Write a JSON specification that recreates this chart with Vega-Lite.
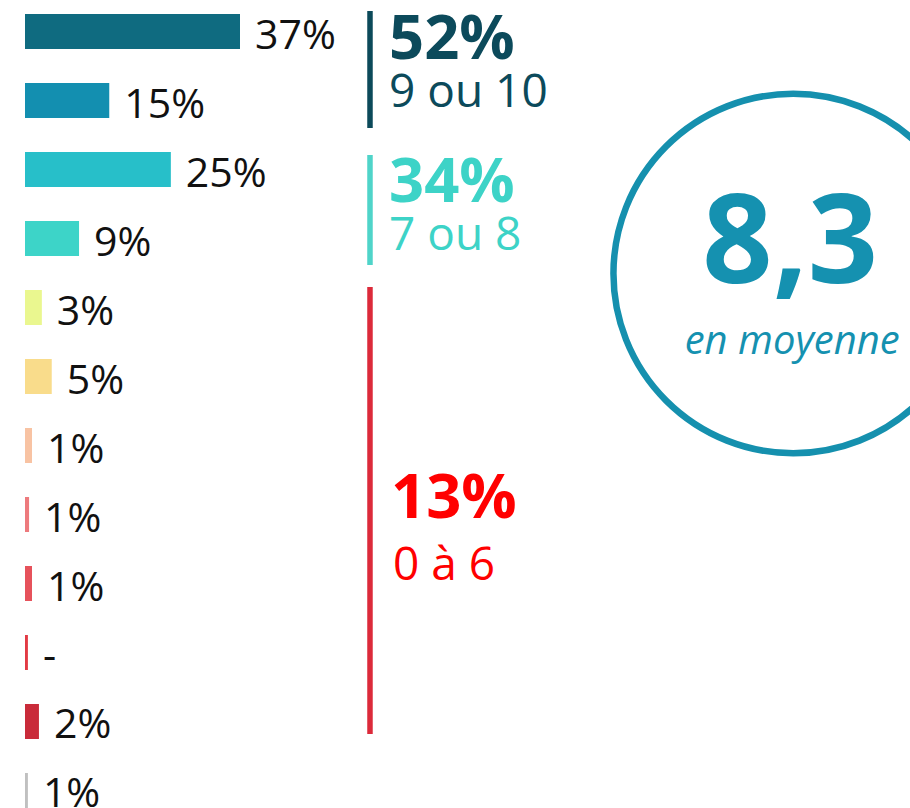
{
  "$schema": "https://vega.github.io/schema/vega-lite/v6.json",
  "width": 885,
  "height": 808,
  "padding": {"left": 25, "top": 0, "right": 0, "bottom": 0},
  "autosize": {"type": "none"},
  "background": "white",
  "config": {"view": {"stroke": null}, "text": {"font": "Open Sans"}},
  "datasets": {
    "notes": [
      {"note": "10", "pct": 37, "label": "37%"},
      {"note": "9", "pct": 14.5, "label": "15%"},
      {"note": "8", "pct": 25.1, "label": "25%"},
      {"note": "7", "pct": 9.3, "label": "9%"},
      {"note": "6", "pct": 2.9, "label": "3%"},
      {"note": "5", "pct": 4.6, "label": "5%"},
      {"note": "4", "pct": 1.2, "label": "1%"},
      {"note": "3", "pct": 0.7, "label": "1%"},
      {"note": "2", "pct": 1.2, "label": "1%"},
      {"note": "1", "pct": 0.5, "label": "-"},
      {"note": "0", "pct": 2.4, "label": "2%"},
      {"note": "NSP", "pct": 0.5, "label": "1%"}
    ],
    "groups": [
      {"grp": "top", "big": "52%", "sub": "9 ou 10", "first": "10", "last": "9"},
      {"grp": "mid", "big": "34%", "sub": "7 ou 8", "first": "8", "last": "7"},
      {"grp": "low", "big": "13%", "sub": "0 à 6", "first": "6", "last": "0"}
    ],
    "mean": [{"value": "8,3", "caption": "en moyenne"}]
  },
  "layer": [
    {
      "data": {"name": "notes"},
      "mark": {"type": "bar"},
      "encoding": {
        "y": {
          "field": "note", "type": "nominal", "sort": null,
          "scale": {"domain": ["10","9","8","7","6","5","4","3","2","1","0","NSP"], "paddingInner": 0.49275, "paddingOuter": 0.10145, "align": 1, "round": false},
          "axis": null
        },
        "x": {"field": "pct", "type": "quantitative", "scale": {"domain": [0, 152.3], "nice": false, "zero": true}, "axis": null},
        "color": {
          "field": "note", "type": "nominal",
          "scale": {
            "domain": ["10","9","8","7","6","5","4","3","2","1","0","NSP"],
            "range": ["#0f6b80","#138fb0","#27bfc9","#3dd4c8","#eaf78f","#f9dc8b","#f8c3a3","#ed7a7d","#e6525b","#e23a44","#c92b3a","#c0c0c0"]
          },
          "legend": null
        }
      }
    },
    {
      "data": {"name": "notes"},
      "mark": {"type": "text", "align": "left", "baseline": "alphabetic", "dx": 15, "dy": 17, "fontSize": 41, "color": "#111111"},
      "encoding": {
        "y": {"field": "note", "type": "nominal"},
        "x": {"field": "pct", "type": "quantitative"},
        "text": {"field": "label"}
      }
    },
    {
      "data": {"name": "groups"},
      "transform": [{"filter": "datum.grp == 'top'"}],
      "mark": {"type": "rule", "color": "#0c4a5a", "strokeWidth": 5.5, "yOffset": -20.5, "y2Offset": 27.5},
      "encoding": {"x": {"datum": 59.37}, "y": {"field": "first", "type": "nominal"}, "y2": {"field": "last"}}
    },
    {
      "data": {"name": "groups"},
      "transform": [{"filter": "datum.grp == 'top'"}],
      "mark": {"type": "text", "align": "left", "baseline": "alphabetic", "fontSize": 61.5, "fontWeight": "bold", "color": "#0c4a5b", "dy": 27.8},
      "encoding": {"x": {"datum": 62.64}, "y": {"field": "first", "type": "nominal"}, "text": {"field": "big"}}
    },
    {
      "data": {"name": "groups"},
      "transform": [{"filter": "datum.grp == 'top'"}],
      "mark": {"type": "text", "align": "left", "baseline": "alphabetic", "fontSize": 46, "color": "#0c4a5b", "dy": 6.5},
      "encoding": {"x": {"datum": 62.64}, "y": {"field": "last", "type": "nominal"}, "text": {"field": "sub"}}
    },
    {
      "data": {"name": "groups"},
      "transform": [{"filter": "datum.grp == 'mid'"}],
      "mark": {"type": "rule", "color": "#4fd4c9", "strokeWidth": 5.5, "yOffset": -14.5, "y2Offset": 26.5},
      "encoding": {"x": {"datum": 59.37}, "y": {"field": "first", "type": "nominal"}, "y2": {"field": "last"}}
    },
    {
      "data": {"name": "groups"},
      "transform": [{"filter": "datum.grp == 'mid'"}],
      "mark": {"type": "text", "align": "left", "baseline": "alphabetic", "fontSize": 61.5, "fontWeight": "bold", "color": "#3dd3c7", "dy": 32.2},
      "encoding": {"x": {"datum": 62.64}, "y": {"field": "first", "type": "nominal"}, "text": {"field": "big"}}
    },
    {
      "data": {"name": "groups"},
      "transform": [{"filter": "datum.grp == 'mid'"}],
      "mark": {"type": "text", "align": "left", "baseline": "alphabetic", "fontSize": 46, "color": "#3dd3c7", "dy": 11.5},
      "encoding": {"x": {"datum": 62.64}, "y": {"field": "last", "type": "nominal"}, "text": {"field": "sub"}}
    },
    {
      "data": {"name": "groups"},
      "transform": [{"filter": "datum.grp == 'low'"}],
      "mark": {"type": "rule", "color": "#dc2a3a", "strokeWidth": 5.5, "yOffset": -20.5, "y2Offset": 12.5},
      "encoding": {"x": {"datum": 59.37}, "y": {"field": "first", "type": "nominal"}, "y2": {"field": "last"}}
    },
    {
      "data": {"name": "groups"},
      "transform": [{"filter": "datum.grp == 'low'"}],
      "mark": {"type": "text", "align": "left", "baseline": "alphabetic", "fontSize": 61.5, "fontWeight": "bold", "color": "#ff0000", "dx": 2, "dy": 210.5},
      "encoding": {"x": {"datum": 62.64}, "y": {"field": "first", "type": "nominal"}, "text": {"field": "big"}}
    },
    {
      "data": {"name": "groups"},
      "transform": [{"filter": "datum.grp == 'low'"}],
      "mark": {"type": "text", "align": "left", "baseline": "alphabetic", "fontSize": 46, "color": "#ff0000", "dx": 4, "dy": 272.5},
      "encoding": {"x": {"datum": 62.64}, "y": {"field": "first", "type": "nominal"}, "text": {"field": "sub"}}
    },
    {
      "data": {"name": "mean"},
      "mark": {"type": "point", "shape": "circle", "filled": false, "stroke": "#1590ae", "strokeWidth": 6.5, "size": 129240, "yOffset": 35, "opacity": 1},
      "encoding": {"x": {"datum": 132.2}, "y": {"datum": "7"}}
    },
    {
      "data": {"name": "mean"},
      "mark": {"type": "text", "align": "center", "baseline": "alphabetic", "fontSize": 123, "fontWeight": "bold", "color": "#1591b0", "dx": -3, "dy": 44.5},
      "encoding": {"x": {"datum": 132.2}, "y": {"datum": "7"}, "text": {"field": "value"}}
    },
    {
      "data": {"name": "mean"},
      "mark": {"type": "text", "align": "center", "baseline": "alphabetic", "fontSize": 40, "fontStyle": "italic", "color": "#1591b0", "dx": -1, "dy": -22.5},
      "encoding": {"x": {"datum": 132.2}, "y": {"datum": "5"}, "text": {"field": "caption"}}
    }
  ]
}
